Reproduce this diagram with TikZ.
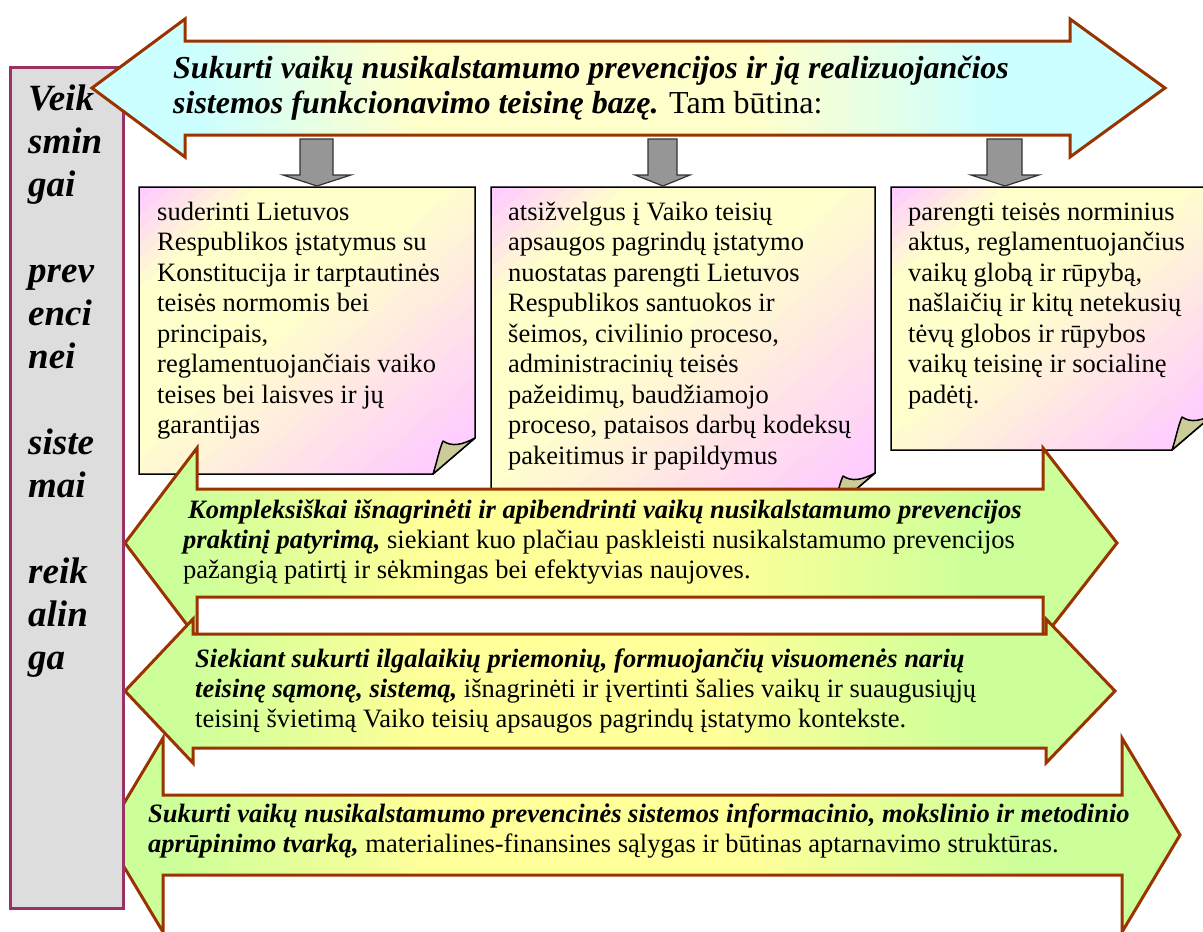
\documentclass[tikz,border=0pt]{standalone}
\usepackage{fontspec}
\setmainfont{Liberation Serif}
\definecolor{brn}{HTML}{993300}
\definecolor{plum}{HTML}{993366}
\definecolor{cyanc}{HTML}{CCFFFF}
\definecolor{yelc}{HTML}{FFFFCC}
\definecolor{grnc}{HTML}{CCFF99}
\definecolor{yelg}{HTML}{FFFF99}
\definecolor{pinkc}{HTML}{FFCCFF}
\definecolor{foldc}{HTML}{CCCC99}
\definecolor{grayf}{HTML}{969696}
\definecolor{boxg}{HTML}{DDDDDD}
\pgfdeclarehorizontalshading{topsh}{100bp}{color(0bp)=(cyanc); color(30bp)=(cyanc); color(40bp)=(yelc); color(56bp)=(yelc); color(67bp)=(cyanc); color(100bp)=(cyanc)}
\pgfdeclarehorizontalshading{grnsh}{100bp}{color(0bp)=(grnc); color(28bp)=(grnc); color(40bp)=(yelg); color(55bp)=(yelg); color(68bp)=(grnc); color(100bp)=(grnc)}
\newcommand\dblarrow[8]{\path[#1] (#2,#6) -- (#3,{#6-#8}) -- (#3,{#6-#7}) -- (#4,{#6-#7}) -- (#4,{#6-#8}) -- (#5,#6) -- (#4,{#6+#8}) -- (#4,{#6+#7}) -- (#3,{#6+#7}) -- (#3,{#6+#8}) -- cycle;}
\newcommand\foldat[2]{\path[fold] ({#1-42},#2) .. controls ({#1-38},{#2-12}) and ({#1-36},{#2-24}) .. ({#1-32},{#2-33}) .. controls ({#1-23},{#2-27}) and ({#1-13},{#2-29}) .. (#1,{#2-36}) -- cycle;}
\newcommand\grayarrow[5]{\path[grayarr] (#1,139) -- (#2,139) -- (#2,175) -- (#4,175) -- (#5,186) -- (#3,175) -- (#1,175) -- cycle;}
% note box: x0 y0 x1 y1 (top-left, bottom-right), diagonal pink-yellow-pink gradient
\newcommand\notebox[4]{%
  \begin{scope}
    \clip (#1,#2) -- (#3,#2) -- (#3,{#4-36}) -- ({#3-42},#4) -- (#1,#4) -- cycle;
    \foreach \i in {0,...,39}{%
      \pgfmathsetmacro\sa{\i/20}%
      \pgfmathsetmacro\sb{(\i+1.4)/20}%
      \pgfmathsetmacro\tm{(\i+0.5)/40}%
      \pgfmathsetmacro\pp{100*min(1,max(max(0,(0.18-\tm)/0.16),(\tm-0.45)/0.47))}%
      \fill[pinkc!\pp!yelc] ({#1+(\sa+2)*(#3-#1)},{#2-2*(#4-#2)}) -- ({#1-2*(#3-#1)},{#2+(\sa+2)*(#4-#2)}) -- ({#1-2*(#3-#1)},{#2+(\sb+2)*(#4-#2)}) -- ({#1+(\sb+2)*(#3-#1)},{#2-2*(#4-#2)}) -- cycle;
    }
  \end{scope}
  \path[noteline] (#1,#2) -- (#3,#2) -- (#3,{#4-36}) -- ({#3-42},#4) -- (#1,#4) -- cycle;
  \foldat{#3}{#4}}
\newcommand\bi{\bfseries\itshape}
\tikzset{
  bigarrow/.style={draw=brn, line width=3pt, line join=miter},
  topfill/.style={bigarrow, shade, shading=topsh},
  grnfill/.style={bigarrow, shade, shading=grnsh},
  noteline/.style={draw=black, line width=1.5pt},
  fold/.style={draw=black, line width=1.5pt, fill=foldc, line join=round},
  grayarr/.style={draw=black!80, line width=1.2pt, fill=grayf},
  sidebox/.style={draw=plum, line width=3pt, fill=boxg},
  txt/.style={anchor=base west, inner sep=0pt, font=\fontsize{26.5}{30.5}\selectfont},
  toptxt/.style={anchor=base west, inner sep=0pt, font=\fontsize{32}{35}\selectfont},
  sidetxt/.style={anchor=base west, inner sep=0pt, font=\fontsize{37}{43}\selectfont\bfseries\itshape}
}
\begin{document}
\begin{tikzpicture}[x=1pt,y=-1pt]
\useasboundingbox (0,0) rectangle (1203,932);
\clip (0,0) rectangle (1203,932);
% note boxes
\notebox{139}{187}{475}{474}
\notebox{491}{187}{875}{509}
\notebox{891}{187}{1214}{450}
% gray arrows
\grayarrow{300}{333}{283}{351}{317}
\grayarrow{648}{677}{635}{690}{663}
\grayarrow{987}{1022}{971}{1039}{1005}
% green arrows
\dblarrow{grnfill}{125}{197}{1043}{1117}{543}{54}{95}
\dblarrow{grnfill}{125}{193}{1046}{1115}{691}{57}{72}
\dblarrow{grnfill}{105}{163}{1122}{1180}{835}{40}{97}
% side box
\path[sidebox] (10,67) rectangle (123,908);
% top arrow
\dblarrow{topfill}{92}{185}{1070}{1165}{88}{47}{69}
% side text
\foreach \w/\k in {Veik/0, smin/1, gai/2, prev/4, enci/5, nei/6, siste/8, mai/9, reik/11, alin/12, ga/13}
  \node[sidetxt] (s\k) at (28,{110+43*\k}) {\w};
% top text
\node[toptxt] (t1) at (173,78) {\bi Sukurti vaikų nusikalstamumo prevencijos ir ją realizuojančios};
\node[toptxt] (t2) at (173,113) {{\bi sistemos funkcionavimo teisinę bazę.} Tam būtina:};
% box texts
\foreach \t [count=\i from 0] in {suderinti Lietuvos, Respublikos įstatymus su, Konstitucija ir tarptautinės, teisės normomis bei, {principais,}, reglamentuojančiais vaiko, teises bei laisves ir jų, garantijas}
  \node[txt] (ba\i) at (157,{220+30.5*\i}) {\t};
\foreach \t [count=\i from 0] in {atsižvelgus į Vaiko teisių, apsaugos pagrindų įstatymo, nuostatas parengti Lietuvos, Respublikos santuokos ir, {šeimos, civilinio proceso,}, administracinių teisės, {pažeidimų, baudžiamojo}, {proceso, pataisos darbų kodeksų}, pakeitimus ir papildymus}
  \node[txt] (bb\i) at (508,{220+30.5*\i}) {\t};
\foreach \t [count=\i from 0] in {parengti teisės norminius, {aktus, reglamentuojančius}, {vaikų globą ir rūpybą,}, našlaičių ir kitų netekusių, tėvų globos ir rūpybos, vaikų teisinę ir socialinę, padėtį.}
  \node[txt] (bc\i) at (908,{220+30.5*\i}) {\t};
% arrow A text
\node[txt] (a1) at (188,518) {\bi Kompleksiškai išnagrinėti ir apibendrinti vaikų nusikalstamumo prevencijos};
\node[txt] (a2) at (183,548) {{\bi praktinį patyrimą,} siekiant kuo plačiau paskleisti nusikalstamumo prevencijos};
\node[txt] (a3) at (183,578) {pažangią patirtį ir sėkmingas bei efektyvias naujoves.};
% arrow B text
\node[txt] (b1) at (195,667) {\bi Siekiant sukurti ilgalaikių priemonių, formuojančių visuomenės narių};
\node[txt] (b2) at (195,697) {{\bi teisinę sąmonę, sistemą,} išnagrinėti ir įvertinti šalies vaikų ir suaugusiųjų};
\node[txt] (b3) at (195,727) {teisinį švietimą Vaiko teisių apsaugos pagrindų įstatymo kontekste.};
% arrow C text
\node[txt] (c1) at (148,822) {\bi Sukurti vaikų nusikalstamumo prevencinės sistemos informacinio, mokslinio ir metodinio};
\node[txt] (c2) at (148,852) {{\bi aprūpinimo tvarką,} materialines-finansines sąlygas ir būtinas aptarnavimo struktūras.};
\end{tikzpicture}
\end{document}
